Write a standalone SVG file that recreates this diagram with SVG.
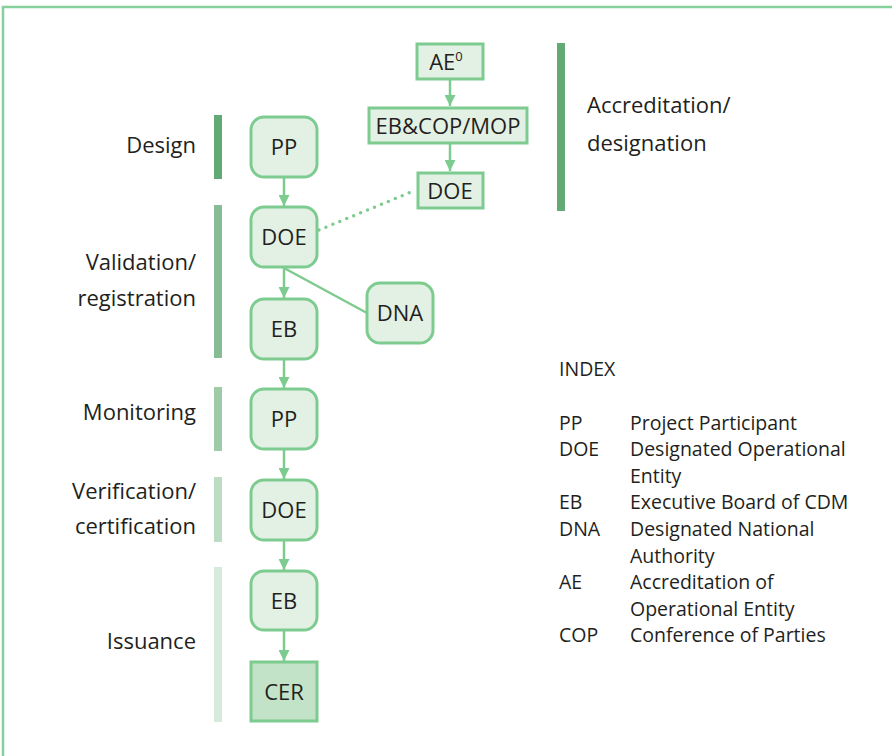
<svg xmlns="http://www.w3.org/2000/svg" width="892" height="756" viewBox="0 0 892 756">
<defs>
<style>
.n{fill:#e3f1e5;stroke:#7dcb8f;stroke-width:3}
.c{fill:#c2e3c8;stroke:#7dcb8f;stroke-width:3}
.t{font-family:"Open Sans","Noto Sans",sans-serif;font-size:22px;fill:#231f20}
.nt{font-family:"Open Sans","Noto Sans",sans-serif;font-size:22px;fill:#231f20;text-anchor:middle}
.l{font-family:"Open Sans","Noto Sans",sans-serif;font-size:22px;fill:#231f20;text-anchor:end}
.i{font-family:"Open Sans","Noto Sans",sans-serif;font-size:19.5px;fill:#231f20}
.e{stroke:#7dcb8f;stroke-width:2.5;fill:none}
</style>
<marker id="ah" viewBox="0 0 10 10" refX="10" refY="5" markerWidth="4.4" markerHeight="4.4" orient="auto" markerUnits="strokeWidth">
<path d="M0,0 L10,5 L0,10 z" fill="#7dcb8f"/>
</marker>
</defs>
<rect width="892" height="756" fill="#fff"/>
<path d="M3,756 V7 H892" fill="none" stroke="#86d09b" stroke-width="2.5"/>

<g id="bars">
<rect x="214" y="115" width="8" height="64" fill="#63a974"/>
<rect x="214" y="205" width="8" height="153" fill="#86bb93"/>
<rect x="214" y="387" width="8" height="64" fill="#9fcaa8"/>
<rect x="214" y="477" width="8" height="65" fill="#bcdcc3"/>
<rect x="214" y="567" width="8" height="155" fill="#d8eadc"/>
<rect x="557" y="43" width="8" height="168" fill="#63a974"/>
</g>

<g id="phase-labels">
<text class="l" x="196" y="153">Design</text>
<text class="l" x="196" y="270">Validation/</text>
<text class="l" x="196" y="306">registration</text>
<text class="l" x="196" y="420">Monitoring</text>
<text class="l" x="196" y="499">Verification/</text>
<text class="l" x="196" y="534">certification</text>
<text class="l" x="196" y="649">Issuance</text>
<text class="t" x="587" y="113">Accreditation/</text>
<text class="t" x="587" y="151">designation</text>
</g>

<g id="connectors">
<line class="e" x1="450" y1="80" x2="450" y2="106" marker-end="url(#ah)"/>
<line class="e" x1="450" y1="144" x2="450" y2="171" marker-end="url(#ah)"/>
<line class="e" x1="284" y1="178" x2="284" y2="206" marker-end="url(#ah)"/>
<line class="e" x1="284" y1="268" x2="284" y2="298" marker-end="url(#ah)"/>
<line class="e" x1="284" y1="360" x2="284" y2="388" marker-end="url(#ah)"/>
<line class="e" x1="284" y1="450" x2="284" y2="479" marker-end="url(#ah)"/>
<line class="e" x1="284" y1="541" x2="284" y2="570" marker-end="url(#ah)"/>
<line class="e" x1="284" y1="631" x2="284" y2="661" marker-end="url(#ah)"/>
<line class="e" x1="284" y1="268" x2="367" y2="313"/>
<line x1="319" y1="230" x2="416" y2="190" stroke="#7dcb8f" stroke-width="3.5" stroke-linecap="round" stroke-dasharray="0 7.5"/>
</g>

<g id="ae"><rect class="n" x="417" y="44" width="66" height="35"/><text class="nt" x="446" y="70">AE<tspan font-size="13" dy="-9">0</tspan></text></g>
<g id="ebcop"><rect class="n" x="369" y="108" width="158" height="35"/><text class="nt" x="448" y="134">EB&amp;COP/MOP</text></g>
<g id="doe-top"><rect class="n" x="418" y="173" width="65" height="35"/><text class="nt" x="450" y="199">DOE</text></g>

<g id="pp1"><rect class="n" x="251" y="117" width="66" height="60" rx="13"/><text class="nt" x="284" y="155">PP</text></g>
<g id="doe1"><rect class="n" x="251" y="207" width="66" height="60" rx="13"/><text class="nt" x="284" y="245">DOE</text></g>
<g id="eb1"><rect class="n" x="251" y="299" width="66" height="60" rx="13"/><text class="nt" x="284" y="337">EB</text></g>
<g id="dna"><rect class="n" x="367" y="283" width="66" height="60" rx="13"/><text class="nt" x="400" y="321">DNA</text></g>
<g id="pp2"><rect class="n" x="251" y="389" width="66" height="60" rx="13"/><text class="nt" x="284" y="427">PP</text></g>
<g id="doe2"><rect class="n" x="251" y="480" width="66" height="60" rx="13"/><text class="nt" x="284" y="518">DOE</text></g>
<g id="eb2"><rect class="n" x="251" y="571" width="66" height="59" rx="13"/><text class="nt" x="284" y="609">EB</text></g>
<g id="cer"><rect class="c" x="251" y="662" width="66" height="59"/><text class="nt" x="284" y="700">CER</text></g>

<g id="index">
<text class="i" x="559" y="376">INDEX</text>
<text class="i" x="559" y="430">PP</text><text class="i" x="630" y="430">Project Participant</text>
<text class="i" x="559" y="456">DOE</text><text class="i" x="630" y="456">Designated Operational</text>
<text class="i" x="630" y="483">Entity</text>
<text class="i" x="559" y="509">EB</text><text class="i" x="630" y="509">Executive Board of CDM</text>
<text class="i" x="559" y="536">DNA</text><text class="i" x="630" y="536">Designated National</text>
<text class="i" x="630" y="563">Authority</text>
<text class="i" x="559" y="589">AE</text><text class="i" x="630" y="589">Accreditation of</text>
<text class="i" x="630" y="616">Operational Entity</text>
<text class="i" x="559" y="642">COP</text><text class="i" x="630" y="642">Conference of Parties</text>
</g>
</svg>
